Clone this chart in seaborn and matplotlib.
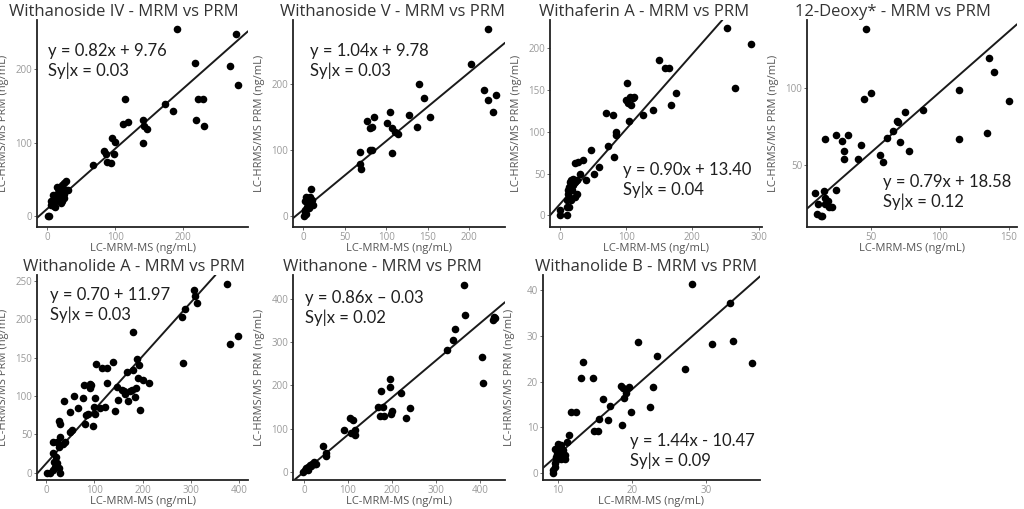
import numpy as np
import pandas as pd
import matplotlib
matplotlib.use("Agg")
import matplotlib.pyplot as plt
import seaborn as sns

# --- data (x = LC-MRM-MS, y = LC-HRMS/MS PRM) ---
withanoside_iv = [(1, 0), (2, 0), (5, 15), (8, 18), (10, 22), (12, 25), (8, 28), (15, 30), (18, 35),
                  (20, 40), (22, 42), (25, 45), (28, 47), (12, 20), (15, 22), (18, 26), (20, 28),
                  (25, 30), (27, 35), (10, 14), (14, 40), (16, 38), (22, 20), (30, 35), (20, 18),
                  (24, 25), (6, 20), (11, 12), (68, 69), (83, 89), (87, 85), (88, 73), (93, 72),
                  (95, 106), (100, 101), (98, 85), (114, 159), (111, 126), (118, 128), (141, 131),
                  (141, 99), (142, 122), (146, 119), (173, 153), (185, 143), (190, 255), (217, 208),
                  (219, 131), (222, 159), (229, 159), (230, 122), (268, 204), (278, 248), (280, 178)]
withanoside_v = [(1, 0), (4, 4), (6, 19), (2, 24), (8, 29), (10, 42), (3, 10), (5, 14), (7, 12),
                 (9, 17), (2, 6), (6, 28), (8, 22), (10, 20), (4, 30), (11, 25), (12, 18), (69, 80),
                 (70, 72), (69, 97), (77, 145), (81, 133), (83, 135), (85, 150), (81, 100), (83, 101),
                 (101, 141), (105, 158), (107, 133), (107, 96), (111, 128), (114, 125), (127, 153),
                 (137, 135), (139, 200), (145, 179), (153, 150), (202, 231), (223, 284), (218, 191),
                 (223, 176), (232, 184), (228, 158)]
withaferin_a = [(0, 6), (0, 0), (10, 0), (10, 10), (11, 18), (12, 26), (14, 34), (15, 40), (17, 42),
                (20, 44), (25, 42), (22, 22), (17, 18), (14, 10), (25, 26), (12, 30), (18, 30),
                (20, 36), (13, 22), (22, 40), (22, 63), (27, 64), (35, 66), (30, 50), (40, 42),
                (47, 78), (52, 50), (59, 58), (70, 123), (72, 83), (80, 120), (82, 70), (84, 96),
                (85, 100), (101, 158), (100, 138), (102, 134), (105, 142), (107, 132), (110, 140),
                (112, 142), (104, 113), (125, 120), (140, 126), (150, 186), (159, 176), (165, 176),
                (167, 132), (175, 146), (252, 224), (264, 152), (288, 205)]
deoxy_12 = [(10, 32), (12, 25), (11, 18), (14, 17), (15, 17), (16, 33), (17, 29), (19, 27), (17, 25),
            (20, 23), (22, 23), (25, 34), (17, 67), (25, 70), (29, 66), (31, 54), (31, 59), (34, 70),
            (41, 54), (43, 63), (45, 93), (47, 139), (50, 97), (57, 57), (59, 52), (62, 68), (66, 72),
            (69, 79), (70, 78), (71, 65), (75, 85), (78, 59), (88, 86), (114, 99), (114, 67),
            (134, 71), (136, 120), (139, 111), (150, 92)]
withanolide_a = [(1, 0), (8, 0), (15, 3), (19, 8), (22, 12), (26, 6), (29, 0), (15, 40), (23, 40),
                 (15, 25), (21, 21), (26, 34), (28, 47), (17, 14), (26, 67), (29, 64), (36, 38),
                 (39, 40), (37, 93), (50, 53), (53, 56), (50, 79), (58, 100), (67, 84), (77, 98),
                 (79, 114), (81, 64), (83, 75), (86, 77), (90, 116), (91, 110), (94, 115), (98, 61),
                 (100, 86), (101, 97), (101, 77), (103, 142), (112, 84), (115, 137), (122, 86),
                 (126, 137), (127, 117), (138, 145), (143, 80), (148, 112), (150, 95), (157, 108),
                 (161, 106), (163, 103), (167, 132), (170, 93), (174, 106), (179, 108), (181, 183),
                 (181, 134), (184, 99), (186, 110), (188, 148), (190, 123), (193, 140), (194, 82),
                 (201, 121), (213, 117), (281, 203), (284, 143), (289, 214), (307, 239), (309, 231),
                 (313, 221), (375, 246), (381, 168), (399, 179)]
withanone = [(-2, 0), (2, 4), (5, 8), (9, 12), (13, 15), (18, 19), (23, 23), (24, 18), (17, 13),
             (28, 19), (9, 4), (43, 59), (49, 44), (51, 36), (91, 98), (104, 124), (108, 90),
             (112, 120), (115, 97), (115, 85), (168, 151), (172, 129), (176, 188), (180, 151),
             (182, 129), (195, 214), (195, 197), (197, 135), (200, 141), (220, 183), (231, 124),
             (241, 148), (326, 283), (339, 305), (343, 330), (364, 432), (365, 364), (404, 266),
             (408, 206), (430, 351), (433, 359), (434, 357)]
withanolide_b = [(9.3, 0), (9.4, 0.6), (9.6, 1.3), (9.6, 2.1), (9.8, 2.8), (9.8, 3.5), (9.9, 4.2),
                 (10, 5), (10.2, 5.7), (10.4, 6.1), (10, 6.4), (9.6, 5.3), (10.7, 5), (10.9, 3.9),
                 (10.2, 3.9), (10.4, 3.1), (10.9, 3.1), (11.2, 6.8), (11.5, 8.3), (11.8, 13.3),
                 (12.5, 13.3), (13.1, 20.7), (13.4, 24.2), (14.7, 20.7), (14.8, 9.2), (15.4, 9.2),
                 (15.6, 11.7), (16.1, 16.2), (16.7, 11.6), (17, 14.7), (18.5, 19), (18.6, 10.5),
                 (18.8, 18.7), (18.9, 16.3), (19.2, 17.4), (19.6, 18.9), (19.9, 13.3), (20.8, 28.7),
                 (22.4, 14.5), (22.8, 18.9), (23.4, 25.6), (27.1, 22.7), (28, 41.4), (30.7, 28.2),
                 (33.2, 37.2), (33.5, 28.9), (36.1, 24)]

titles = ["Withanoside IV - MRM vs PRM", "Withanoside V - MRM vs PRM", "Withaferin A - MRM vs PRM",
          "12-Deoxy* - MRM vs PRM", "Withanolide A - MRM vs PRM", "Withanone - MRM vs PRM",
          "Withanolide B - MRM vs PRM"]
slopes = [0.82, 1.04, 0.90, 0.79, 0.70, 0.86, 1.44]
intercepts = [9.76, 9.78, 13.40, 18.58, 11.97, -0.03, -10.47]
equations = ["y = 0.82x + 9.76", "y = 1.04x + 9.78", "y = 0.90x + 13.40", "y = 0.79x + 18.58",
             "y = 0.70 + 11.97", "y = 0.86x \u2013 0.03", "y = 1.44x - 10.47"]
syx = ["0.03", "0.03", "0.04", "0.12", "0.03", "0.02", "0.09"]
xticks = [[0, 100, 200], [0, 50, 100, 150, 200], [0, 100, 200, 300], [50, 100, 150],
          [0, 100, 200, 300, 400], [0, 100, 200, 300, 400], [10, 20, 30]]
yticks = [[0, 100, 200], [0, 100, 200], [0, 50, 100, 150, 200], [50, 100],
          [0, 50, 100, 150, 200, 250], [0, 100, 200, 300, 400], [0, 10, 20, 30, 40]]
xlims = [(-15, 295), (-12, 243), (-15, 305), (4, 156), (-19, 419), (-25, 457), (8, 37.2)]
ylims = [(-15, 267), (-16, 297), (-14, 234), (9.8, 144.6), (-9.6, 258), (-19, 456), (-1.6, 43.4)]

panels = [withanoside_iv, withanoside_v, withaferin_a, deoxy_12, withanolide_a, withanone, withanolide_b]

# layout in pixels: (left, right, top, bottom), title centre x, annotation (left, mid y)
W, H = 1024, 509
boxes = [(37, 248, 20, 227), (293, 505, 20, 227), (550, 762, 20, 227), (807, 1017, 20, 227),
         (37, 248, 275, 480), (293, 505, 275, 480), (543, 760, 275, 480)]
title_x = [124, 393, 644, 893, 134, 382, 646]
note_pos = [(48, 61), (310, 61), (623, 180), (883, 192), (50, 305), (305, 308), (630, 451)]

sns.set_theme(style="ticks")
plt.rcParams['font.family'] = ['Open Sans', 'DejaVu Sans']

fig = plt.figure(figsize=(W / 100, H / 100), dpi=100)

for i, pts in enumerate(panels):
    l, r, t, b = boxes[i]
    ax = fig.add_axes([l / W, 1 - b / H, (r - l) / W, (b - t) / H])
    df = pd.DataFrame(pts, columns=["mrm", "prm"])
    sns.scatterplot(data=df, x="mrm", y="prm", ax=ax, color="black", s=30,
                    edgecolor="black", linewidth=0, zorder=3)
    ax.axline((0, intercepts[i]), slope=slopes[i], color="#1a1a1a", lw=1.4, zorder=2)
    ax.set_xlim(*xlims[i])
    ax.set_ylim(*ylims[i])
    ax.set_xticks(xticks[i])
    ax.set_yticks(yticks[i])
    ax.tick_params(labelsize=7, labelcolor="#9a9a9a", length=2, width=0.6, color="#555555", pad=1.5)
    for s in ["top", "right"]:
        ax.spines[s].set_visible(False)
    for s in ["left", "bottom"]:
        ax.spines[s].set_linewidth(1.3)
        ax.spines[s].set_color("#222222")
    ax.set_xlabel("LC-MRM-MS (ng/mL)", fontsize=8, color="#555555")
    ax.set_ylabel("LC-HRMS/MS PRM (ng/mL)", fontsize=8, color="#555555")
    ax.xaxis.set_label_coords(0.5, -16 / (b - t))
    ax.yaxis.set_label_coords(-28 / (r - l), 0.5)

    fig.text(title_x[i] / W, 1 - (t - 8) / H, titles[i], ha="center", va="center",
             fontsize=12, color="#333333")
    nx, ny = note_pos[i]
    fig.text(nx / W, 1 - ny / H, equations[i] + "\nSy|x = " + syx[i], ha="left", va="center",
             fontsize=12, color="#1f1f1f", family=["Lato", "DejaVu Sans"], linespacing=1.3)

fig.savefig("out.png", dpi=100)
